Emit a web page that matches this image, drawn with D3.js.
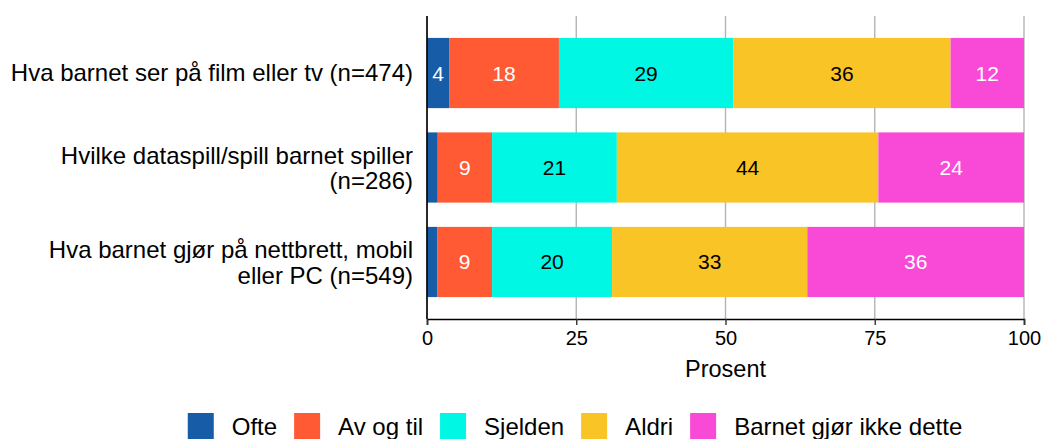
<!DOCTYPE html>
<html>
<head>
<meta charset="utf-8">
<script src="https://cdn.jsdelivr.net/npm/d3@7"></script>
<style>
  body { margin: 0; background: #fff; }
  text { font-family: "Liberation Sans", Arial, sans-serif; }
</style>
</head>
<body>
<div id="chart"></div>
<script>
// categories (top to bottom)
var categories = [
  "Hva barnet ser på film eller tv (n=474)",
  "Hvilke dataspill/spill barnet spiller\n(n=286)",
  "Hva barnet gjør på nettbrett, mobil\neller PC (n=549)"
];
var seriesNames = ["Ofte", "Av og til", "Sjelden", "Aldri", "Barnet gjør ikke dette"];
var ofte      = [3.7, 1.8, 1.7];
var avOgTil   = [18.4, 9.1, 9.2];
var sjelden   = [29.2, 20.9, 20.1];
var aldri     = [36.4, 43.8, 32.7];
var ikkeDette = [12.3, 24.4, 36.3];
var xTicks = [0, 25, 50, 75, 100];
var colors = ["#165ca6", "#ff5a34", "#00f7e3", "#f9c425", "#f84ad6"];
var textColors = ["#fff", "#fff", "#000", "#000", "#fff"];

var W = 1044, H = 439;

var rows = categories.map(function(c, i) {
  return {cat: c, s0: ofte[i], s1: avOgTil[i], s2: sjelden[i], s3: aldri[i], s4: ikkeDette[i]};
});
var keys = ["s0", "s1", "s2", "s3", "s4"];
var stacked = d3.stack().keys(keys)(rows);

var x = d3.scaleLinear().domain([0, 100]).range([427, 1024]);
var y = d3.scaleBand().domain(categories).range([16, 319])
  .paddingInner(0.257).paddingOuter(0.232);

var svg = d3.select("#chart").append("svg")
  .attr("width", W).attr("height", H);

// grid
svg.append("g").selectAll("line")
  .data(xTicks).enter().append("line")
  .attr("x1", function(d){ return x(d); })
  .attr("x2", function(d){ return x(d); })
  .attr("y1", 16).attr("y2", 319)
  .attr("stroke", "#b4b4b4")
  .attr("stroke-width", 1.4);

// bars
var layer = svg.append("g").selectAll("g")
  .data(stacked).enter().append("g")
  .attr("fill", function(d, i){ return colors[i]; });

layer.selectAll("rect")
  .data(function(d){ return d; })
  .enter().append("rect")
  .attr("x", function(d){ return x(d[0]); })
  .attr("width", function(d){ return x(d[1]) - x(d[0]); })
  .attr("y", function(d){ return y(d.data.cat); })
  .attr("height", y.bandwidth());

// value labels
layer.selectAll("text")
  .data(function(d, i){ return d.map(function(p){ return {p: p, i: i}; }); })
  .enter().filter(function(d){ return d.p[1] - d.p[0] >= 3; })
  .append("text")
  .attr("x", function(d){ return (x(d.p[0]) + x(d.p[1])) / 2; })
  .attr("y", function(d){ return y(d.p.data.cat) + y.bandwidth() / 2 + 7.5; })
  .attr("text-anchor", "middle")
  .style("font-size", "21px")
  .attr("fill", function(d){ return textColors[d.i]; })
  .text(function(d){ return Math.round(d.p[1] - d.p[0]); });

// axes
svg.append("line")
  .attr("x1", 427).attr("x2", 427).attr("y1", 16).attr("y2", 319)
  .attr("stroke", "#000").attr("stroke-width", 1.6);

var xAxis = d3.axisBottom(x).tickValues(xTicks).tickSize(6).tickPadding(6);
var gx = svg.append("g")
  .attr("transform", "translate(0,319)")
  .call(xAxis);
gx.select(".domain").attr("stroke", "#000").attr("stroke-width", 1.6);
gx.selectAll(".tick line").attr("stroke", "#333").attr("stroke-width", 1.4);
gx.selectAll("text")
  .style("font-size", "20px")
  .attr("fill", "#000")
  .attr("font-family", "Liberation Sans, Arial, sans-serif");

svg.append("text")
  .attr("x", x(50)).attr("y", 377)
  .attr("text-anchor", "middle")
  .style("font-size", "23.5px")
  .text("Prosent");

// category labels
categories.forEach(function(c) {
  var lines = c.split("\n");
  var cy = y(c) + y.bandwidth() / 2;
  var t = svg.append("text")
    .attr("text-anchor", "end")
    .style("font-size", "24px")
    .attr("fill", "#000");
  lines.forEach(function(l, j) {
    var by = lines.length == 1 ? cy + 8.3 : cy - 3.5 + j * 25.2;
    t.append("tspan").attr("x", 413).attr("y", by).text(l);
  });
});

// legend
var leg = svg.append("g");
var lx = 0;
seriesNames.forEach(function(n, i) {
  var g = leg.append("g").attr("transform", "translate(" + lx + ",0)");
  g.append("rect").attr("x", 0).attr("y", 413).attr("width", 26).attr("height", 26)
    .attr("fill", colors[i]);
  var t = g.append("text").attr("x", 44).attr("y", 435)
    .style("font-size", "24px").text(n);
  lx += 44 + t.node().getComputedTextLength() + 17;
});
var legW = lx - 17;
leg.attr("transform", "translate(" + (575 - legW / 2) + ",0)");
</script>
</body>
</html>
